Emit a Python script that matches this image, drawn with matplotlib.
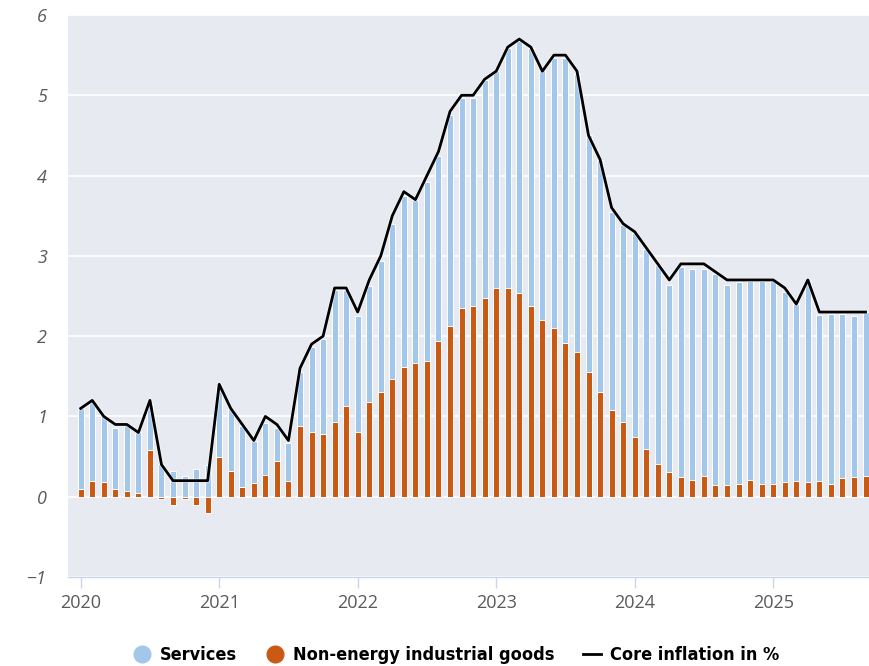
import matplotlib
matplotlib.use("Agg")
import matplotlib.pyplot as plt
from matplotlib.lines import Line2D
import matplotlib.patheffects as pe
import numpy as np

# monthly data, Jan 2020 - Sep 2025
core = [1.1, 1.2, 1.0, 0.9, 0.9, 0.8, 1.2, 0.4, 0.2, 0.2, 0.2, 0.2,
        1.4, 1.1, 0.9, 0.7, 1.0, 0.9, 0.7, 1.6, 1.9, 2.0, 2.6, 2.6,
        2.3, 2.7, 3.0, 3.5, 3.8, 3.7, 4.0, 4.3, 4.8, 5.0, 5.0, 5.2,
        5.3, 5.6, 5.7, 5.6, 5.3, 5.5, 5.5, 5.3, 4.5, 4.2, 3.6, 3.4,
        3.3, 3.1, 2.9, 2.7, 2.9, 2.9, 2.9, 2.8, 2.7, 2.7, 2.7, 2.7,
        2.7, 2.6, 2.4, 2.7, 2.3, 2.3, 2.3, 2.3, 2.3]

neig = [0.10, 0.20, 0.18, 0.10, 0.07, 0.05, 0.58, -0.03, -0.10, -0.03, -0.10, -0.20,
        0.49, 0.32, 0.12, 0.17, 0.27, 0.44, 0.20, 0.88, 0.80, 0.78, 0.93, 1.13,
        0.80, 1.18, 1.30, 1.47, 1.62, 1.66, 1.69, 1.94, 2.13, 2.35, 2.38, 2.48,
        2.60, 2.60, 2.54, 2.37, 2.20, 2.10, 1.91, 1.80, 1.55, 1.30, 1.08, 0.93,
        0.74, 0.59, 0.41, 0.31, 0.25, 0.21, 0.26, 0.14, 0.14, 0.16, 0.21, 0.16,
        0.16, 0.18, 0.20, 0.18, 0.20, 0.16, 0.23, 0.25, 0.26]

services = [1.00, 0.99, 0.82, 0.75, 0.82, 0.75, 0.57, 0.41, 0.32, 0.26, 0.34, 0.40,
            0.89, 0.77, 0.76, 0.52, 0.65, 0.42, 0.47, 0.67, 1.06, 1.18, 1.64, 1.44,
            1.45, 1.45, 1.64, 1.93, 2.13, 2.03, 2.23, 2.31, 2.62, 2.61, 2.59, 2.71,
            2.70, 2.99, 3.13, 3.22, 3.11, 3.37, 3.56, 3.47, 2.95, 2.89, 2.47, 2.45,
            2.54, 2.50, 2.47, 2.33, 2.61, 2.63, 2.58, 2.64, 2.50, 2.51, 2.48, 2.53,
            2.53, 2.37, 2.20, 2.51, 2.06, 2.11, 2.04, 2.00, 2.04]

years = ["2020", "2021", "2022", "2023", "2024", "2025"]

col_serv = "#a3c7ea"
col_neig = "#c85a14"
bg = "#e7eaf1"
txt = "#5a5a5a"

x = np.arange(len(core))
neig_arr = np.array(neig)
serv_bottom = np.clip(neig_arr, 0, None)

fig = plt.figure(figsize=(8.69, 6.66), dpi=100)
ax = fig.add_axes([68 / 869, 89 / 666, 1 - 68 / 869, 562 / 666])
ax.set_facecolor(bg)

ax.bar(x, neig, width=0.52, color=col_neig, edgecolor="white", linewidth=0.7, zorder=2)
ax.bar(x, services, width=0.52, bottom=serv_bottom, color=col_serv,
       edgecolor="white", linewidth=0.7, zorder=2)
ax.plot(x, core, color="black", linewidth=2.0, zorder=3,
        path_effects=[pe.withStroke(linewidth=3.2, foreground="white", alpha=0.5)])

ax.set_xlim(-1.1, 68.3)
ax.set_ylim(-1, 6)
ax.set_yticks(range(-1, 7))
ax.set_yticklabels([str(v).replace("-", "\u2212") for v in range(-1, 7)],
                   fontstyle="italic", fontsize=13, color=txt, family="Open Sans")
ax.set_xticks(np.arange(0, 72, 12))
ax.set_xticklabels(years, fontsize=13, color=txt, family="Open Sans")
ax.tick_params(axis="y", length=0, pad=15)
ax.tick_params(axis="x", length=8, width=1, color="#ccd6eb", pad=4)

ax.grid(axis="y", color="white", linewidth=1.2, zorder=1)
ax.set_axisbelow(True)
for side in ["top", "right", "left"]:
    ax.spines[side].set_visible(False)
ax.spines["bottom"].set_color("#ccd6eb")
ax.spines["bottom"].set_linewidth(1)

handles = [
    Line2D([], [], marker="o", linestyle="none", markersize=12,
           markerfacecolor=col_serv, markeredgecolor=col_serv),
    Line2D([], [], marker="o", linestyle="none", markersize=12,
           markerfacecolor=col_neig, markeredgecolor=col_neig),
    Line2D([], [], color="black", linewidth=2),
]
labels = ["Services", "Non-energy industrial goods", "Core inflation in %"]
fig.legend(handles, labels, loc="center", bbox_to_anchor=(0.525, 0.0165), ncol=3,
           frameon=False, handlelength=1.0, handletextpad=0.5, columnspacing=1.6,
           prop={"family": "DejaVu Sans", "stretch": "condensed",
                 "weight": "bold", "size": 13})

fig.savefig("out.png", dpi=100)
